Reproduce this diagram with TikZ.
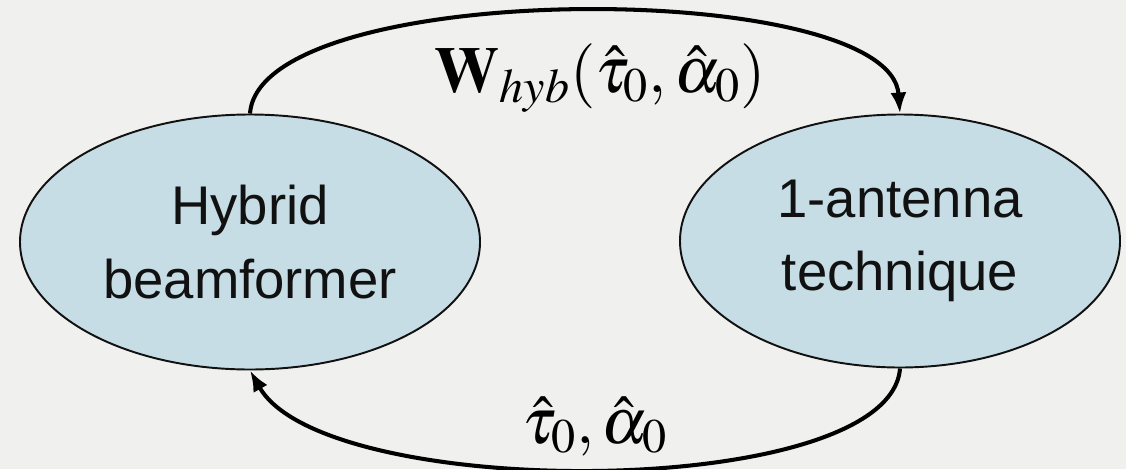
\documentclass[tikz,border=0pt]{standalone}
\usepackage{mathptmx}
\usepackage[no-math]{fontspec}
\newfontfamily\arialfont{Liberation Sans}
\usepackage{tikz}
\usetikzlibrary{arrows.meta, shapes.geometric}
\definecolor{paper}{HTML}{F0F0EF}
\definecolor{cellblue}{HTML}{C6DDE5}
\definecolor{inkline}{HTML}{111111}
\tikzset{
  blob/.style={ellipse, draw=inkline, fill=cellblue, line width=1.1pt,
               align=center, inner sep=0pt, text=inkline,
               font=\arialfont\fontsize{31}{42}\selectfont},
  loop/.style={-{Latex[length=0.42cm, width=0.32cm]}, line width=2.3pt, draw=black},
  mlbl/.style={anchor=base, font=\fontsize{37}{44}\selectfont},
}

\begin{document}
\begin{tikzpicture}
  % Frame with the reference margins
  \fill[paper] (0,0) rectangle (22.52,-9.38);
  \useasboundingbox (0,0) rectangle (22.52,-9.38);

  % Blocks
  \node[blob, minimum width=9.2cm, minimum height=5.1cm] (hyb) at (5.0, -4.84) {Hybrid\\beamformer};
  \node[blob, minimum width=8.8cm, minimum height=5.06cm] (ant) at (18.0, -4.82) {1-antenna\\technique};

  % Arrows
  \draw[loop] (hyb.north) .. controls +(0.2, 2.72) and +(-0.2, 2.72) .. (ant.north);
  \draw[loop] (ant.south) .. controls +(-0.2, -2.65) and +(1.5, -2.65) .. (hyb.south);

  % Labels
  \node[mlbl] (wlbl) at (12.0, -1.84) {$\mathbf{W}_{hyb}(\hat{\tau}_0,\hat{\alpha}_0)$};
  \node[mlbl] (tlbl) at (11.9, -8.86) {$\hat{\tau}_0,\hat{\alpha}_0$};
\end{tikzpicture}
\end{document}
